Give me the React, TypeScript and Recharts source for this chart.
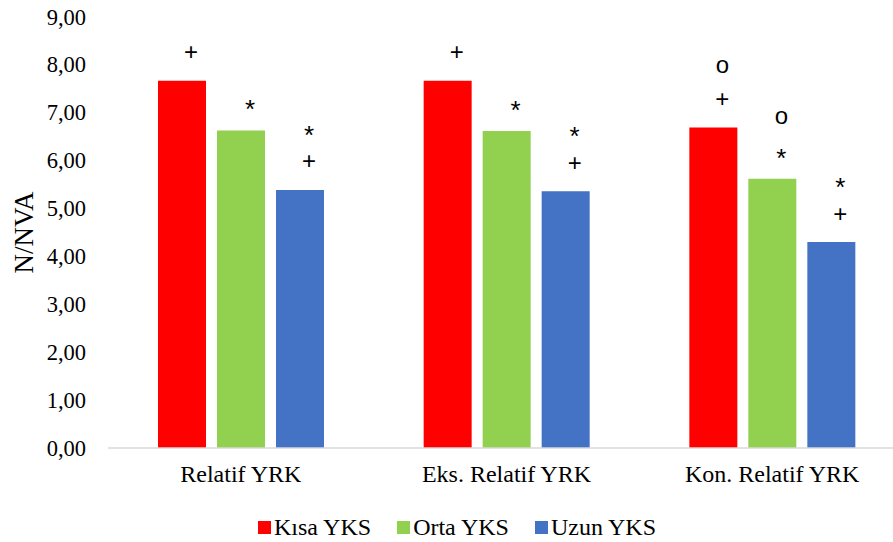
import React from "react";
import { BarChart, Bar, XAxis, YAxis, Legend, LabelList, Label } from "recharts";

// N/NVA değerleri, YRK türüne ve YKS süresine göre
const categories = ["Relatif YRK", "Eks. Relatif YRK", "Kon. Relatif YRK"];
const kisaYks = [7.67, 7.67, 6.69];
const ortaYks = [6.63, 6.62, 5.62];
const uzunYks = [5.39, 5.36, 4.3];

// anlamlılık işaretleri, sütuna en yakın olandan yukarı doğru
const kisaMarks = [["+"], ["+"], ["+", "o"]];
const ortaMarks = [["*"], ["*"], ["*", "o"]];
const uzunMarks = [["+", "*"], ["+", "*"], ["+", "*"]];

const yTicks = [0, 1, 2, 3, 4, 5, 6, 7, 8, 9];

const SERIF = "Liberation Serif";
const SANS = "Liberation Sans";

const SERIES = [
  { key: "kisa", name: "Kısa YKS", color: "#FF0000", marks: kisaMarks },
  { key: "orta", name: "Orta YKS", color: "#92D050", marks: ortaMarks },
  { key: "uzun", name: "Uzun YKS", color: "#4472C4", marks: uzunMarks },
];

const data = categories.map((name, i) => ({
  name,
  kisa: kisaYks[i],
  orta: ortaYks[i],
  uzun: uzunYks[i],
  kisaMarks: kisaMarks[i],
  ortaMarks: ortaMarks[i],
  uzunMarks: uzunMarks[i],
}));

const fmt = (v: number) => v.toFixed(2).replace(".", ",");

// yıldız glifi satırın üstünde durduğu için biraz aşağı alınıyor
const glyphDy = (m: string) => (m === "*" ? "0.3em" : "0");

function markContent(marks: string[][]) {
  return (props: any) => {
    const { x, y, width, index, value } = props;
    const list: string[] = Array.isArray(value) ? value : marks[index] ?? [];
    const cx = Number(x) + Number(width) / 2 + 9;
    return (
      <g>
        {list.map((m, i) => (
          <text
            key={i}
            x={cx}
            y={Number(y) - 29 - i * 34}
            dy={glyphDy(m)}
            textAnchor="middle"
            dominantBaseline="central"
            fontFamily={SANS}
            fontSize={m === "*" ? 26 : 24}
            fill="#000"
          >
            {m}
          </text>
        ))}
      </g>
    );
  };
}

const YTick = (props: any) => {
  const { x, y, payload } = props;
  return (
    <text
      x={x}
      y={y}
      textAnchor="end"
      dominantBaseline="central"
      fontFamily={SERIF}
      fontSize={22.5}
      fill="#000"
    >
      {fmt(Number(payload.value))}
    </text>
  );
};

const XTick = (props: any) => {
  const { x, y, payload } = props;
  return (
    <text
      x={x}
      y={y}
      dy="0.71em"
      textAnchor="middle"
      fontFamily={SERIF}
      fontSize={24}
      fill="#000"
    >
      {payload.value}
    </text>
  );
};

const renderLegend = () => (
  <div
    style={{
      display: "flex",
      justifyContent: "center",
      alignItems: "center",
      gap: 26,
      height: 30,
      paddingLeft: 9,
      fontFamily: SERIF,
      fontSize: 24,
      color: "#000",
    }}
  >
    {SERIES.map((s) => (
      <span key={s.key} style={{ display: "flex", alignItems: "center" }}>
        <span
          style={{
            display: "inline-block",
            width: 13,
            height: 13,
            background: s.color,
            marginRight: 3,
          }}
        />
        {s.name}
      </span>
    ))}
  </div>
);

const yLabel = (props: any) => {
  const vb = props.viewBox || {};
  const cx = Number(vb.x ?? 0) + 24;
  const cy = Number(vb.y ?? 0) + Number(vb.height ?? 0) / 2;
  return (
    <text
      x={cx}
      y={cy}
      transform={`rotate(-90 ${cx} ${cy})`}
      textAnchor="middle"
      dominantBaseline="central"
      fontFamily={SERIF}
      fontSize={27}
      fill="#000"
    >
      N/NVA
    </text>
  );
};

export default function App() {
  return (
    <div
      style={{
        position: "absolute",
        left: 0,
        top: 0,
        width: 893,
        height: 542,
        overflow: "hidden",
        background: "#fff",
        fontFamily: SERIF,
      }}
    >
      <BarChart
        width={905}
        height={542}
        data={data}
        margin={{ top: 17, right: 0, bottom: 0, left: 0 }}
        barSize={48}
        barGap={11}
      >
        <YAxis
          width={108}
          domain={[0, 9]}
          ticks={yTicks}
          axisLine={false}
          tickLine={false}
          tickSize={0}
          tickMargin={22}
          tick={<YTick />}
          interval={0}
        >
          <Label content={yLabel} />
        </YAxis>
        <XAxis
          dataKey="name"
          height={64}
          axisLine={{ stroke: "#D9D9D9", strokeWidth: 1.5 }}
          tickLine={false}
          tickSize={0}
          tickMargin={17}
          tick={<XTick />}
          interval={0}
        />
        <Legend verticalAlign="bottom" height={30} content={renderLegend} />
        {SERIES.map((s) => (
          <Bar
            key={s.key}
            dataKey={s.key}
            name={s.name}
            fill={s.color}
            isAnimationActive={false}
          >
            <LabelList dataKey={`${s.key}Marks`} content={markContent(s.marks)} />
          </Bar>
        ))}
      </BarChart>
    </div>
  );
}
